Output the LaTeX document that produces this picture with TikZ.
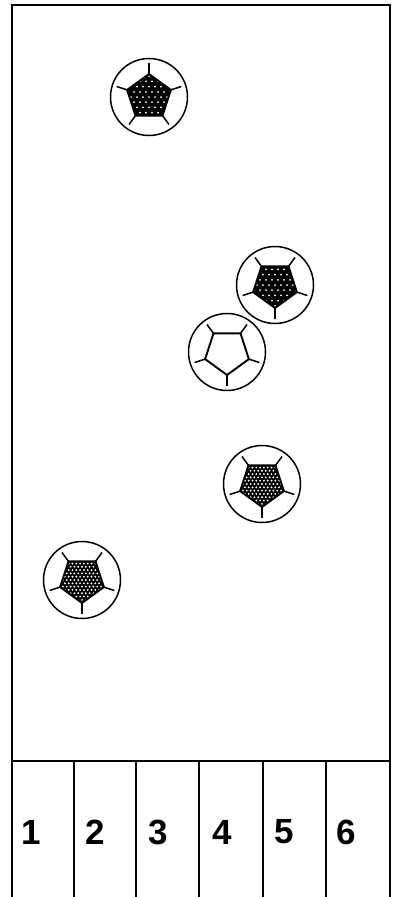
\documentclass[tikz,border=0pt]{standalone}
\usepackage{fontspec}
\setsansfont{Liberation Sans}
\usetikzlibrary{positioning}

\tikzset{
    ballrim/.style={circle, draw=black, line width=1.5pt, minimum size=77pt, inner sep=0pt},
    spoke/.style={line width=1.5pt},
    pentagon/.style={line width=1.9pt, line join=round},
    frame/.style={line width=2.6pt},
    divider/.style={line width=2pt},
    lane/.style={font=\sffamily\bfseries\fontsize{35}{35}\selectfont, anchor=center}
}

% pentagon corner points, radius 23
\newcommand\pentapath{(90:23) -- (162:23) -- (234:23) -- (306:23) -- (18:23) -- cycle}

% #1 name, #2 x, #3 y, #4 rotation, #5 dot spacing (0 = open), #6 dot radius
\newcommand\drawball[6]{%
  \node[ballrim] (#1) at (#2,-#3) {};
  \begin{scope}[shift={(#1.center)}, rotate=#4]
    \foreach \k in {0,...,4}
      \draw[spoke] (90+72*\k:23) -- (90+72*\k:34);
    \ifdim #5pt>0pt
      \begin{scope}
        \clip \pentapath;
        \fill[black] (-25,-25) rectangle (25,25);
        \foreach \i in {-8,...,8}
          \foreach \j in {-8,...,8}
            \fill[white] ({(\i+0.5*mod(abs(\j),2))*#5},{\j*#5*0.87}) circle (#6);
      \end{scope}
    \fi
    \draw[pentagon] \pentapath;
  \end{scope}
}

\begin{document}
\begin{tikzpicture}[x=1pt, y=1pt]
\useasboundingbox (0,0) rectangle (399,-897);

% tube outline
\draw[frame] (12,-897) -- (12,-5) -- (390,-5) -- (390,-897);
\draw[frame] (12,-761) -- (390,-761);
\foreach \xd in {74,136,199,263,326}
  \draw[divider] (\xd,-761) -- (\xd,-897);

% lane numbers
\foreach \n/\xl in {1/31,2/95,3/158,4/222,5/284,6/346}
  \node[lane] (Lane\n) at (\xl,-832) {\n};

% balls
\drawball{BallA}{149}{97}{0}{6}{1}
\drawball{BallB}{275}{285}{180}{6}{1}
\drawball{BallC}{227}{352}{180}{0}{0}
\drawball{BallD}{262}{484}{180}{3.8}{1.05}
\drawball{BallE}{82}{580}{180}{3.8}{1.05}

\end{tikzpicture}
\end{document}
